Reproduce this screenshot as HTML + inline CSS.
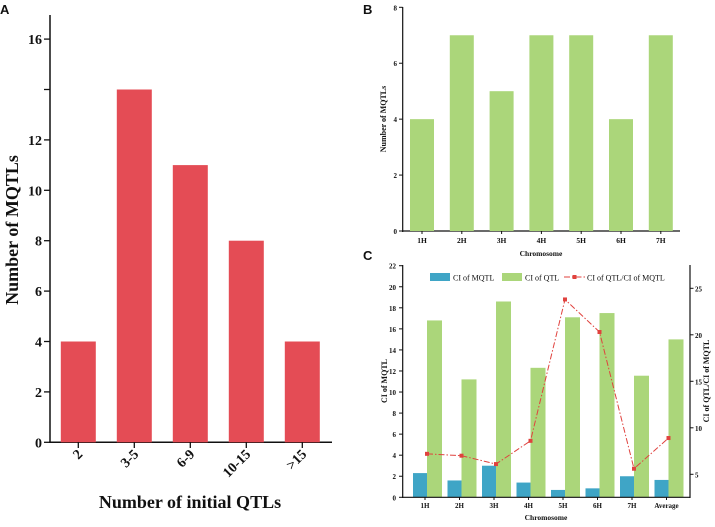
<!DOCTYPE html>
<html><head><meta charset="utf-8"><style>
body{margin:0;background:#fff;}
svg{display:block;font-family:"Liberation Serif",serif;font-weight:bold;}
.lab{font-family:"Liberation Sans",sans-serif;font-weight:bold;}
</style></head><body>
<svg id="s" width="715" height="527" xmlns="http://www.w3.org/2000/svg"></svg>
<script>
const aCats=["2","3-5","6-9","10-15",">15"];
const aVals=[4,14,11,8,4];
const aTicks=[0,2,4,6,8,10,12,14,16];
const bCats=["1H","2H","3H","4H","5H","6H","7H"];
const bVals=[4,7,5,7,7,4,7];
const bTicks=[0,2,4,6,8];
const cCats=["1H","2H","3H","4H","5H","6H","7H","Average"];
const cMqtl=[2.3,1.6,3.0,1.4,0.7,0.85,2.0,1.65];
const cQtl=[16.8,11.2,18.6,12.3,17.1,17.5,11.55,15.0];
const cRatio=[7.2,7.0,6.1,8.6,23.8,20.3,5.6,8.9];
const cLeftTicks=[0,2,4,6,8,10,12,14,16,18,20,22];
const cRightTicks=[5,10,15,20,25];

const s=document.getElementById('s');const NS="http://www.w3.org/2000/svg";
function el(tag,at,txt){const e=document.createElementNS(NS,tag);for(const k in at)e.setAttribute(k,at[k]);if(txt!==undefined)e.textContent=txt;s.appendChild(e);return e;}
function line(x1,y1,x2,y2,w,name){const e=el('line',{x1,y1,x2,y2,stroke:'#111','stroke-width':w||1.3});

return e;}
function text(x,y,t,size,anchor,name,extra){const a={x,y,'font-size':size,'text-anchor':anchor||'middle',fill:'#111'};Object.assign(a,extra||{});const e=el('text',a,t);

return e;}

// Panel A
text(0,14,"A",13,'start','panel-a-label',{class:'lab'});
const aY=v=>442.3-v*25.2, aX=i=>78.3+i*56;
line(50,15,50,443,1.5,'panel-a-y-axis');line(49,442.3,332,442.3,1.5,'panel-a-x-axis');
aTicks.forEach(t=>{line(44,aY(t),50,aY(t),1.3,'panel-a-y-tick');if(t!==14)text(42,aY(t)+5,String(t),14,'end','panel-a-y-tick-label');});
aVals.forEach((v,i)=>{const r=el('rect',{x:aX(i)-17.5,y:aY(v),width:35,height:aY(0)-aY(v),fill:'#e44c55'});


line(aX(i),442,aX(i),448,1.3,'panel-a-x-tick');
const x=aX(i)+5,y=455;text(x,y,aCats[i],14,'end','panel-a-x-tick-label',{transform:`rotate(-45 ${x} ${y})`});});
text(190,508,"Number of initial QTLs",18,'middle','panel-a-x-title');
text(18,230,"Number of MQTLs",18,'middle','panel-a-y-title',{transform:'rotate(-90 18 230)'});

// Panel B
text(363,14,"B",13,'start','panel-b-label',{class:'lab'});
const bY=v=>231-v*(231-7.3)/8, bX=i=>422+i*39.8;
line(402.7,7,402.7,232,1.2,'panel-b-y-axis');line(402,231,680,231,1.2,'panel-b-x-axis');
bTicks.forEach(t=>{line(399,bY(t),402.7,bY(t),1,'panel-b-y-tick');text(397,bY(t)+3,String(t),7,'end','panel-b-y-tick-label');});
bVals.forEach((v,i)=>{const r=el('rect',{x:bX(i)-12,y:bY(v),width:24,height:bY(0)-bY(v),fill:'#abd67a'});


line(bX(i),231,bX(i),234,1,'panel-b-x-tick');text(bX(i),243,bCats[i],7.5,'middle','panel-b-x-tick-label');});
text(541,256,"Chromosome",7.5,'middle','panel-b-x-title');
text(386,119,"Number of MQTLs",8,'middle','panel-b-y-title',{transform:'rotate(-90 386 119)'});

// Panel C
text(363,260,"C",13,'start','panel-c-label',{class:'lab'});
const cY=v=>497.3-v*(497.3-265.7)/22, cR=v=>520.8-v*9.3, cX=i=>425+i*34.5;
cMqtl.forEach((v,i)=>{const r=el('rect',{x:cX(i)-12,y:cY(v),width:14,height:cY(0)-cY(v),fill:'#3fa5c6'});

});
cQtl.forEach((v,i)=>{const r=el('rect',{x:cX(i)+2,y:cY(v),width:15,height:cY(0)-cY(v),fill:'#abd67a'});

});
const pl=el('polyline',{points:cRatio.map((v,i)=>(cX(i)+2)+','+cR(v)).join(' '),fill:'none',stroke:'#e0423e','stroke-width':1,'stroke-dasharray':'6 2 1.5 2'});


cRatio.forEach((v,i)=>{const m=el('rect',{x:cX(i)+2-2,y:cR(v)-2,width:4,height:4,fill:'#e0423e'});

});
line(402.7,265,402.7,498,1.2,'panel-c-left-axis');line(690,265,690,498,1.2,'panel-c-right-axis');line(402,497.3,690.5,497.3,1.2,'panel-c-x-axis');
cLeftTicks.forEach(t=>{line(399,cY(t),402.7,cY(t),1,'panel-c-left-tick');text(396,cY(t)+3,String(t),7,'end','panel-c-left-tick-label');});
cRightTicks.forEach(t=>{line(690,cR(t),693.5,cR(t),1,'panel-c-right-tick');text(695,cR(t)+3,String(t),7,'start','panel-c-right-tick-label');});
cCats.forEach((c,i)=>{line(cX(i),497,cX(i),500,1,'panel-c-x-tick');text(cX(i),508,c,7,'middle','panel-c-x-tick-label');});
text(546,520,"Chromosome",7.5,'middle','panel-c-x-title');
text(387,381,"CI of MQTL",8,'middle','panel-c-y-title',{transform:'rotate(-90 387 381)'});
text(709,381,"CI of QTL/CI of MQTL",8,'middle','panel-c-right-y-title',{transform:'rotate(-90 709 381)'});
// legend
const lg=[['#3fa5c6',430,'CI of MQTL'],['#abd67a',502,'CI of QTL']];
lg.forEach(l=>{const r=el('rect',{x:l[1],y:273,width:20,height:8,fill:l[0]});


text(l[1]+23,280.5,l[2],8,'start','legend-entry',{'font-weight':'normal'});});
const ll=el('line',{x1:564,y1:277,x2:585,y2:277,stroke:'#e0423e','stroke-width':1,'stroke-dasharray':'6 2 1.5 2'});


const lm=el('rect',{x:572.5,y:275,width:4,height:4,fill:'#e0423e'});


text(587,280.5,"CI of QTL/CI of MQTL",8,'start','legend-entry',{'font-weight':'normal'});
</script>
</body></html>
